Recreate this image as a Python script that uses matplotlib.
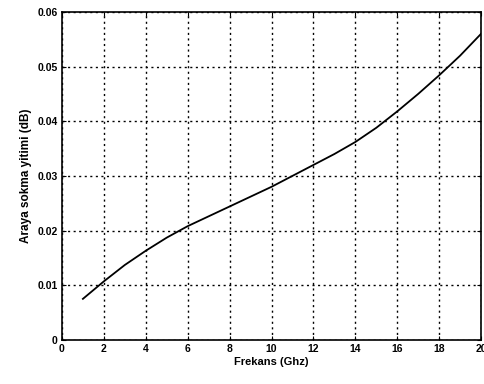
import matplotlib
matplotlib.use("Agg")
import matplotlib.pyplot as plt

freq = [1, 2, 3, 4, 5, 6, 7, 8, 9, 10, 11, 12, 13, 14, 15, 16, 17, 18, 19, 20]
loss = [0.0075, 0.0107, 0.0137, 0.0163, 0.0187, 0.0208, 0.0226, 0.0244, 0.0262, 0.0280,
        0.0300, 0.0320, 0.0340, 0.0362, 0.0388, 0.0418, 0.0450, 0.0484, 0.0520, 0.0560]
xticks = [0, 2, 4, 6, 8, 10, 12, 14, 16, 18, 20]
yticks = [0, 0.01, 0.02, 0.03, 0.04, 0.05, 0.06]
ytick_labels = ["0", "0.01", "0.02", "0.03", "0.04", "0.05", "0.06"]

plt.rcParams['font.family'] = ['Liberation Sans', 'DejaVu Sans']
fig = plt.figure(figsize=(4.84, 3.84), dpi=100)
ax = fig.add_axes([0.128, 0.115, 0.866, 0.854])
ax.plot(freq, loss, color='black', lw=1.3)
ax.set_xlim(0, 20)
ax.set_ylim(0, 0.06)
ax.set_xticks(xticks)
ax.set_xticklabels([str(t) for t in xticks], fontsize=7.5, fontweight='bold')
ax.set_yticks(yticks)
ax.set_yticklabels(ytick_labels, fontsize=7.5, fontweight='bold')
ax.grid(True, color='black', linestyle=(0, (1.5, 2.5)), linewidth=1.0)
ax.tick_params(direction='in', length=3, width=0.8, top=True, right=True, pad=3)
for s in ax.spines.values():
    s.set_linewidth(1.2)
ax.set_xlabel("Frekans (Ghz)", fontsize=8, fontweight='bold', labelpad=2)
ax.set_ylabel("Araya sokma yitimi (dB)", fontsize=8.5, fontweight='bold', labelpad=4)
fig.savefig("out.png", dpi=100)
